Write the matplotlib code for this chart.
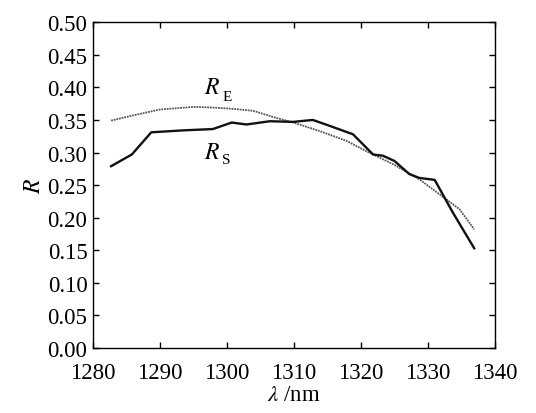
import matplotlib
matplotlib.use("Agg")
import matplotlib.pyplot as plt

rs_x = [1282.7, 1285.8, 1288.7, 1293.5, 1297.9, 1300.7, 1302.9, 1306.4, 1309.9, 1312.8,
        1315.3, 1318.8, 1321.8, 1323.3, 1325.0, 1327.2, 1328.7, 1331.0, 1333.7, 1336.9]
rs_y = [0.279, 0.297, 0.331, 0.334, 0.336, 0.346, 0.343, 0.348, 0.347, 0.350,
        0.341, 0.328, 0.297, 0.295, 0.287, 0.267, 0.261, 0.258, 0.208, 0.153]

re_x = [1282.7, 1286.0, 1290.0, 1295.0, 1297.9, 1300.9, 1303.9, 1307.4, 1309.9, 1313.8,
        1317.8, 1320.8, 1324.8, 1328.7, 1331.7, 1334.7, 1336.9]
re_y = [0.349, 0.357, 0.366, 0.370, 0.369, 0.367, 0.364, 0.353, 0.346, 0.333,
        0.318, 0.302, 0.282, 0.259, 0.236, 0.213, 0.182]

xticks = [1280, 1290, 1300, 1310, 1320, 1330, 1340]
yticks = [0.00, 0.05, 0.10, 0.15, 0.20, 0.25, 0.30, 0.35, 0.40, 0.45, 0.50]

plt.rcParams['font.family'] = ['Liberation Serif', 'DejaVu Serif']
plt.rcParams['mathtext.fontset'] = 'stix'

fig = plt.figure(figsize=(5.36, 4.14), dpi=100)
ax = fig.add_axes([0.1735, 0.157, 0.75, 0.787])

ax.plot(re_x, re_y, color='#555555', lw=1.3, linestyle=(0, (1, 0.5)))
ax.plot(rs_x, rs_y, color='#111111', lw=1.7)

ax.text(1296.6, 0.399, r'$R$', fontsize=17, ha='left', va='center')
ax.text(1299.3, 0.386, 'E', fontsize=11, ha='left', va='center')
ax.text(1296.6, 0.300, r'$R$', fontsize=17, ha='left', va='center')
ax.text(1299.3, 0.289, 'S', fontsize=11, ha='left', va='center')

ax.set_xlim(1280, 1340)
ax.set_ylim(0, 0.5)
ax.set_xticks(xticks)
ax.set_yticks(yticks)
ax.set_yticklabels([f"{v:.2f}" for v in yticks])
ax.tick_params(direction='in', length=4, width=1, labelsize=16.5, top=True, right=True)
ax.tick_params(axis='x', pad=10)
ax.tick_params(axis='y', pad=4)
ax.set_xlabel(r'$\lambda$ /nm', fontsize=16.5, labelpad=1)
ax.set_ylabel(r'$R$', fontsize=17, labelpad=2)
for s in ax.spines.values():
    s.set_linewidth(1.0)

fig.savefig('out.png', dpi=100)
